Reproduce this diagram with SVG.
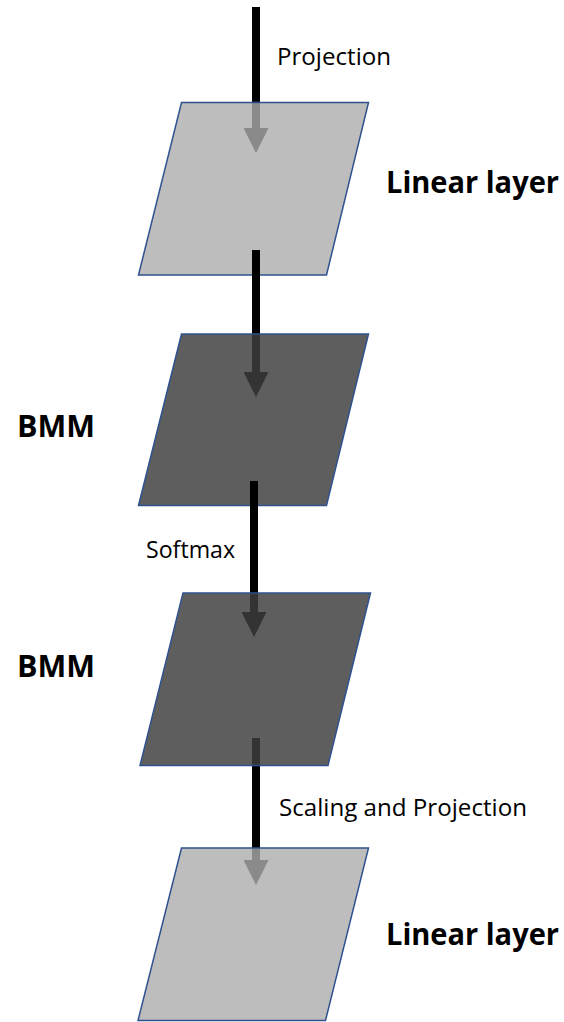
<svg xmlns="http://www.w3.org/2000/svg" width="564" height="1022" viewBox="0 0 564 1022">
  <style>
    .light { fill: #aeacac; fill-opacity: 0.8; stroke: #2f528f; stroke-width: 1.5; }
    .dark { fill: #3f3d3d; fill-opacity: 0.83; stroke: #2f528f; stroke-width: 1.5; }
    .conn { stroke: #000; stroke-width: 8; fill: none; marker-end: url(#ah); }
    .lbl { font-family: "Open Sans", "Liberation Sans", sans-serif; font-size: 24px; fill: #000; }
    .title { font-family: "Open Sans", "Liberation Sans", sans-serif; font-size: 30px; font-weight: bold; fill: #000; }
  </style>
  <defs>
    <marker id="ah" markerUnits="userSpaceOnUse" markerWidth="25" markerHeight="25" refX="0" refY="12.5" orient="auto">
      <path d="M0,0 L25,12.5 L0,25 Z" fill="#000"/>
    </marker>
  </defs>
  <rect width="564" height="1022" fill="#fff"/>

  <g id="connectors">
    <line id="c0" class="conn" x1="256" y1="7" x2="256" y2="128"/>
  </g>

  <g id="linear1">
    <polygon class="light" points="181.5,102.5 368.5,102.5 326.5,275 138.5,275"/>
  </g>

  <g id="connectors-2">
    <line id="c1" class="conn" x1="256" y1="250" x2="256" y2="372"/>
  </g>

  <g id="bmm1">
    <polygon class="dark" points="181.5,334 368.5,334 326.5,505.5 138.5,505.5"/>
  </g>

  <g id="connectors-3">
    <line id="c2" class="conn" x1="254" y1="481" x2="254" y2="612"/>
    <line id="c3" class="conn" x1="256" y1="738" x2="256" y2="860"/>
  </g>

  <g id="bmm2">
    <polygon class="dark" points="183,593 370.5,593 328,765.5 140,765.5"/>
  </g>

  <g id="linear2">
    <polygon class="light" points="181.5,848 368.5,848 325.5,1020.5 138,1020.5"/>
  </g>

  <g id="labels">
    <text class="lbl" x="277" y="65" textLength="114" lengthAdjust="spacingAndGlyphs">Projection</text>
    <text class="title" x="386" y="193" textLength="173" lengthAdjust="spacingAndGlyphs">Linear layer</text>
    <text class="title" x="17" y="437" textLength="78" lengthAdjust="spacingAndGlyphs">BMM</text>
    <text class="lbl" x="146" y="558" textLength="89" lengthAdjust="spacingAndGlyphs">Softmax</text>
    <text class="title" x="17" y="677" textLength="78" lengthAdjust="spacingAndGlyphs">BMM</text>
    <text class="lbl" x="279" y="816" textLength="248" lengthAdjust="spacingAndGlyphs">Scaling and Projection</text>
    <text class="title" x="386" y="945" textLength="173" lengthAdjust="spacingAndGlyphs">Linear layer</text>
  </g>
</svg>
